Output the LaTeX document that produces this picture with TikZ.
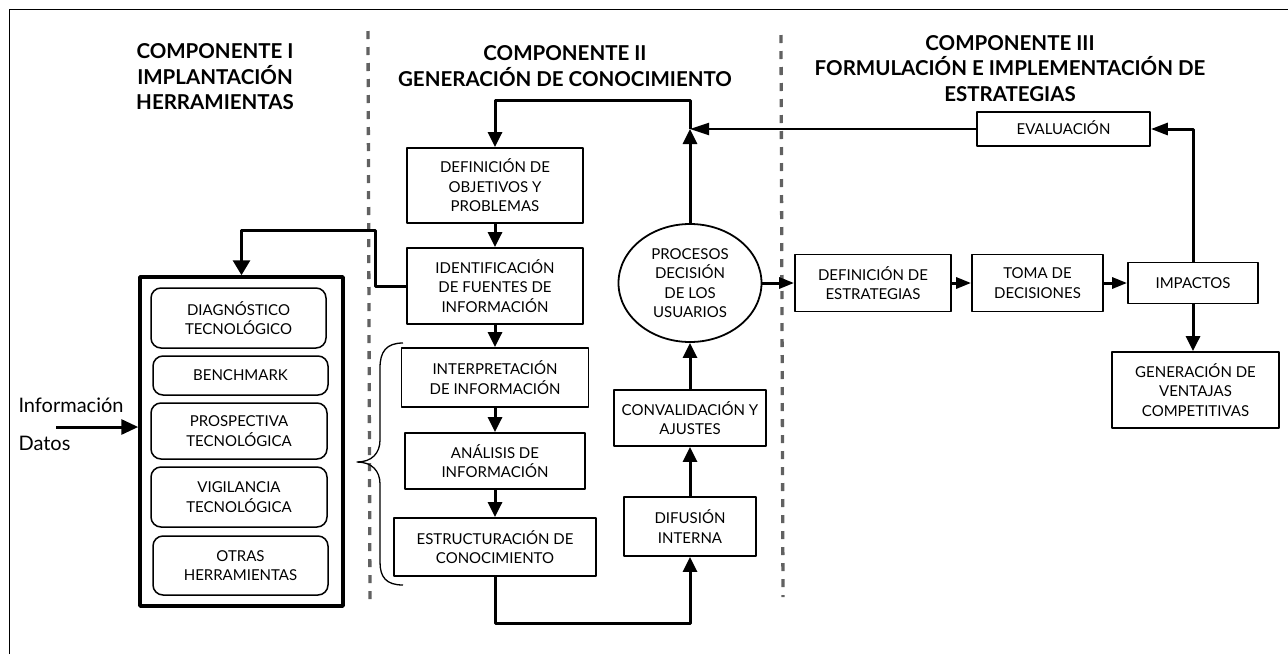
\documentclass[tikz,border=0pt]{standalone}
\usepackage{fontspec}
\setmainfont{Lato}
\usetikzlibrary{arrows.meta,shapes.geometric}

\begin{document}
\begin{tikzpicture}[x=1pt, y=-1pt, line join=round,
	box/.style={draw, line width=1.8pt, inner sep=0pt, align=center, font=\fontsize{15}{19.5}\selectfont},
	tool/.style={box, line width=1.5pt, rounded corners=10pt},
	head/.style={align=center, font=\fontsize{20.5}{25.5}\selectfont\bfseries},
	flow/.style={line width=3pt, -{Triangle[length=15pt,width=14pt]}},
	hflow/.style={line width=3pt, -{Triangle[length=15pt,width=11pt]}},
	sep/.style={draw=black!62, line width=3.3pt, dash pattern=on 8pt off 8pt}]
	% Page size and frame
	\useasboundingbox (0,0) rectangle (1288,654);
	\draw[line width=1pt] (9,654) -- (9,9) -- (1288,9);
	
	% Dashed separators
	\draw[sep] (368,31) -- (370,605);
	\draw[sep] (781,35) -- (783,597);
	
	% Headers
	\node[head] (compI) at (215,77) {COMPONENTE I\\IMPLANTACIÓN\\HERRAMIENTAS};
	\node[head] (compII) at (565,66) {COMPONENTE II\\GENERACIÓN DE CONOCIMIENTO};
	\node[head] (compIII) at (1010,68.5) {COMPONENTE III\\FORMULACIÓN E IMPLEMENTACIÓN DE\\ESTRATEGIAS};
	
	% Component I: tools
	\node[draw, line width=3.5pt, minimum width=203pt, minimum height=329pt] (tools) at (241.5,441.5) {};
	\node[tool, minimum width=175pt, minimum height=60pt] (diag) at (238.5,318) {DIAGNÓSTICO\\TECNOLÓGICO};
	\node[tool, minimum width=175pt, minimum height=39pt] (bench) at (240.5,375.5) {BENCHMARK};
	\node[tool, minimum width=176pt, minimum height=56pt] (prosp) at (239,431) {PROSPECTIVA\\TECNOLÓGICA};
	\node[tool, minimum width=176pt, minimum height=60pt] (vigil) at (239,497) {VIGILANCIA\\TECNOLÓGICA};
	\node[tool, minimum width=175pt, minimum height=59pt] (otras) at (240.5,565.5) {OTRAS\\HERRAMIENTAS};
	
	\node[anchor=west, font=\fontsize{20}{22}\selectfont] (info) at (15,405) {Información};
	\node[anchor=west, font=\fontsize{20}{22}\selectfont] (datos) at (15,443) {Datos};
	\coordinate (input) at (56,427);
	\draw[line width=3pt, -{Triangle[length=17pt,width=15pt]}] (input) -- (input -| tools.west);
	
	% Component II: knowledge generation
	\node[box, minimum width=176pt, minimum height=75pt] (defobj) at (495,185.5) {DEFINICIÓN DE\\OBJETIVOS Y\\PROBLEMAS};
	\node[box, minimum width=176pt, minimum height=76pt] (ident) at (495,286) {IDENTIFICACIÓN\\DE FUENTES DE\\INFORMACIÓN};
	\node[box, minimum width=187pt, minimum height=59pt] (interp) at (495,377.5) {INTERPRETACIÓN\\DE INFORMACIÓN};
	\node[box, minimum width=180pt, minimum height=56pt] (analisis) at (495,461) {ANÁLISIS DE\\INFORMACIÓN};
	\node[box, minimum width=202pt, minimum height=58pt] (estruct) at (495,547) {ESTRUCTURACIÓN DE\\CONOCIMIENTO};
	\node[box, minimum width=132pt, minimum height=59pt] (difus) at (690,526.5) {DIFUSIÓN\\INTERNA};
	\node[box, minimum width=152pt, minimum height=56pt] (conval) at (690,418) {CONVALIDACIÓN Y\\AJUSTES};
	\node[box, ellipse, minimum width=143pt, minimum height=118pt] (procesos) at (690,283) {PROCESOS\\DECISIÓN\\DE LOS\\USUARIOS};
	
	\draw[flow] (defobj) -- (ident);
	\draw[flow] (ident) -- (interp);
	\draw[flow] (interp) -- (analisis);
	\draw[flow] (analisis) -- (estruct);
	\draw[flow] (estruct.south) -- ++(0,47) -| (difus.south);
	\draw[flow] (difus) -- (conval);
	\draw[flow] (conval) -- (procesos);
	
	% Feedback loop
	\coordinate (junc) at (690,129);
	\coordinate (looptop) at (690,100);
	\draw[flow] (procesos.north) -- (junc);
	\draw[flow] (junc) -- (looptop) -| (defobj.north);
	
	% Link to the tools
	\coordinate (bend) at (375,230);
	\draw[line width=3pt, -{Triangle[length=15pt,width=17pt]}] (ident.west) -| (bend) -| (tools.north);
	
	% Brace over the analysis steps
	\draw[line width=1.3pt] (403,343) .. controls (386,343) and (380,352) .. (380,368) -- (380,440)
		.. controls (380,453) and (372,462) .. (357,462) .. controls (372,462) and (380,471) .. (380,484)
		-- (380,562) .. controls (380,577) and (386,585) .. (403,585);
	
	% Component III: strategies
	\node[box, minimum width=156pt, minimum height=57pt] (defest) at (873,283) {DEFINICIÓN DE\\ESTRATEGIAS};
	\node[box, minimum width=131pt, minimum height=57pt] (toma) at (1037.5,283) {TOMA DE\\DECISIONES};
	\node[box, minimum width=130pt, minimum height=41pt] (impactos) at (1193,283) {IMPACTOS};
	\node[box, minimum width=173pt, minimum height=34pt] (evaluacion) at (1063.5,129) {\raisebox{3pt}{EVALUACIÓN}};
	\node[box, minimum width=167pt, minimum height=76pt] (ventajas) at (1195.5,390) {GENERACIÓN DE\\VENTAJAS\\COMPETITIVAS};
	
	\draw[hflow] (procesos) -- (defest);
	\draw[hflow] (defest) -- (toma);
	\draw[hflow] (toma) -- (impactos);
	\draw[flow] (impactos.south) -- (impactos.south |- ventajas.north);
	\draw[line width=3pt, -{Triangle[length=17pt,width=12pt]}] (impactos.north) |- (evaluacion.east);
	\draw[line width=2.2pt, -{Triangle[length=19pt,width=12pt]}] (evaluacion.west) -- (junc);
\end{tikzpicture}
\end{document}
